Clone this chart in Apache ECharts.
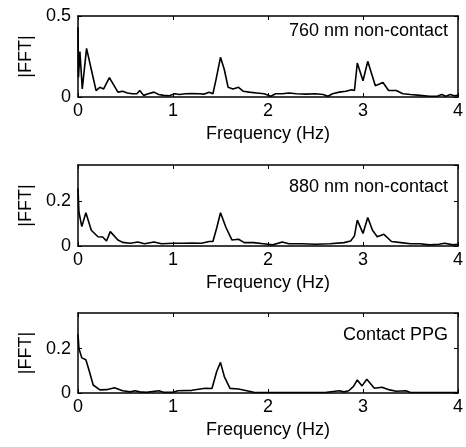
<!DOCTYPE html>
<html>
<head>
<meta charset="utf-8">
<title>FFT spectra</title>
<script src="https://cdn.jsdelivr.net/npm/echarts@6/dist/echarts.min.js"></script>
<style>
  html, body { margin: 0; padding: 0; background: #fff; }
  #fft-chart { width: 466px; height: 447px; }
</style>
</head>
<body>
<div id="fft-chart"></div>
<script>
// panel titles
const panelNames = ['760 nm non-contact', '880 nm non-contact', 'Contact PPG']

// 760 nm non-contact
const freq760 = [0, 0.005, 0.02, 0.045, 0.09, 0.14, 0.19, 0.23, 0.27, 0.33, 0.38, 0.42, 0.47, 0.52, 0.57,
  0.62, 0.65, 0.69, 0.74, 0.8, 0.85, 0.9, 0.96, 1.02, 1.07, 1.13, 1.2, 1.27, 1.33, 1.38,
  1.42, 1.45, 1.5, 1.54, 1.58, 1.63, 1.69, 1.74, 1.8, 1.88, 1.96, 2.03, 2.08, 2.15, 2.22,
  2.3, 2.4, 2.5, 2.58, 2.63, 2.68, 2.75, 2.82, 2.88, 2.91, 2.94, 3.0, 3.05, 3.13, 3.21,
  3.27, 3.35, 3.42, 3.5, 3.6, 3.7, 3.78, 3.83, 3.87, 3.92, 3.96, 4.0]
const fft760 = [0.43, 0.12, 0.28, 0.05, 0.30, 0.17, 0.04, 0.06, 0.05, 0.12, 0.07, 0.03, 0.035, 0.025, 0.02,
  0.02, 0.04, 0.01, 0.02, 0.03, 0.015, 0.01, 0.008, 0.02, 0.015, 0.02, 0.022, 0.02, 0.018, 0.03,
  0.02, 0.1, 0.245, 0.17, 0.06, 0.05, 0.06, 0.035, 0.03, 0.025, 0.02, 0.005, 0.02, 0.02, 0.025,
  0.02, 0.018, 0.02, 0.015, 0.005, 0.02, 0.03, 0.035, 0.045, 0.04, 0.21, 0.10, 0.22, 0.07, 0.09,
  0.04, 0.04, 0.02, 0.015, 0.01, 0.005, 0.005, 0.015, 0.005, 0.015, 0.008, 0.01]

// 880 nm non-contact
const freq880 = [0, 0.01, 0.04, 0.083, 0.14, 0.21, 0.26, 0.3, 0.34, 0.42, 0.47, 0.55, 0.63, 0.7, 0.8,
  0.88, 1.0, 1.1, 1.2, 1.3, 1.38, 1.42, 1.46, 1.5, 1.56, 1.62, 1.69, 1.75, 1.85, 1.95,
  2.05, 2.15, 2.22, 2.35, 2.5, 2.65, 2.8, 2.87, 2.91, 2.94, 3.0, 3.05, 3.1, 3.15, 3.22,
  3.3, 3.4, 3.5, 3.6, 3.7, 3.8, 3.86, 3.95, 4.0]
const fft880 = [0.256, 0.15, 0.086, 0.148, 0.07, 0.041, 0.04, 0.022, 0.064, 0.027, 0.016, 0.012, 0.018, 0.01, 0.018,
  0.01, 0.012, 0.012, 0.013, 0.012, 0.02, 0.02, 0.08, 0.148, 0.08, 0.027, 0.03, 0.015, 0.015, 0.01,
  0.005, 0.018, 0.01, 0.01, 0.008, 0.01, 0.015, 0.022, 0.045, 0.115, 0.056, 0.127, 0.07, 0.041, 0.052,
  0.02, 0.015, 0.01, 0.01, 0.005, 0.008, 0.012, 0.005, 0.008]

// contact PPG
const freqPpg = [0, 0.01, 0.04, 0.083, 0.12, 0.16, 0.23, 0.3, 0.385, 0.47, 0.55, 0.6, 0.65, 0.72, 0.85,
  0.9, 1.0, 1.05, 1.2, 1.34, 1.41, 1.46, 1.5, 1.54, 1.6, 1.69, 1.8, 1.85, 2.0, 2.3,
  2.6, 2.75, 2.8, 2.85, 2.9, 2.94, 2.99, 3.04, 3.12, 3.2, 3.28, 3.35, 3.45, 3.5, 3.7, 4.0]
const fftPpg = [0.264, 0.2, 0.158, 0.15, 0.097, 0.036, 0.014, 0.015, 0.024, 0.01, 0.005, 0.01, 0.005, 0.003, 0.01,
  0.003, 0.003, 0.01, 0.012, 0.021, 0.02, 0.097, 0.138, 0.074, 0.021, 0.018, 0.008, 0.003, 0.002, 0.002,
  0.002, 0.01, 0.005, 0.01, 0.03, 0.059, 0.032, 0.062, 0.021, 0.026, 0.014, 0.008, 0.01, 0.002, 0.002, 0.002]

// axis ranges
const xTicks = [0, 1, 2, 3, 4]
const yMax = [0.5, 0.36, 0.36]
const yStep = [0.5, 0.2, 0.2]

const panels = [
  { freq: freq760, fft: fft760, top: 16, height: 81, titleTop: 17 },
  { freq: freq880, fft: fft880, top: 165, height: 81, titleTop: 173 },
  { freq: freqPpg, fft: fftPpg, top: 313, height: 80, titleTop: 321 }
]

const font = 'Liberation Sans, Arial, sans-serif'
const chart = echarts.init(document.getElementById('fft-chart'))

const grid = []
const xAxis = []
const yAxis = []
const series = []
const title = []

panels.forEach((p, i) => {
  grid.push({ left: 78, width: 384, top: p.top, height: p.height })
  // onZero off so the top / right edges stay on the box
  const line = { show: true, onZero: false, lineStyle: { color: '#000', width: 1.5 } }
  const tick = { show: true, inside: true, length: 4, lineStyle: { color: '#000' } }
  // bottom axis with labels
  xAxis.push({
    gridIndex: i,
    type: 'value',
    min: xTicks[0],
    max: xTicks[xTicks.length - 1],
    interval: 1,
    position: 'bottom',
    axisLine: line,
    axisTick: tick,
    splitLine: { show: false },
    axisLabel: { color: '#000', fontSize: 18, fontFamily: font, margin: 5 },
    name: 'Frequency (Hz)',
    nameLocation: 'middle',
    nameGap: 28,
    nameTextStyle: { color: '#000', fontSize: 18, fontFamily: font }
  })
  // top box edge
  xAxis.push({
    gridIndex: i,
    type: 'value',
    min: xTicks[0],
    max: xTicks[xTicks.length - 1],
    interval: 1,
    position: 'top',
    axisLine: line,
    axisTick: tick,
    splitLine: { show: false },
    axisLabel: { show: false }
  })
  yAxis.push({
    gridIndex: i,
    type: 'value',
    min: 0,
    max: yMax[i],
    interval: yStep[i],
    position: 'left',
    axisLine: line,
    axisTick: tick,
    splitLine: { show: false },
    axisLabel: { color: '#000', fontSize: 18, fontFamily: font, margin: 7, showMaxLabel: i === 0 },
    name: '|FFT|',
    nameLocation: 'middle',
    nameRotate: 90,
    nameGap: 43,
    nameTextStyle: { color: '#000', fontSize: 18, fontFamily: font }
  })
  // right box edge
  yAxis.push({
    gridIndex: i,
    type: 'value',
    min: 0,
    max: yMax[i],
    interval: yStep[i],
    position: 'right',
    axisLine: line,
    axisTick: tick,
    splitLine: { show: false },
    axisLabel: { show: false }
  })
  series.push({
    type: 'line',
    xAxisIndex: i * 2,
    yAxisIndex: i * 2,
    data: p.freq.map((f, k) => [f, p.fft[k]]),
    showSymbol: false,
    lineStyle: { color: '#000', width: 1.6 },
    animation: false
  })
  title.push({
    text: panelNames[i],
    right: 13,
    top: p.titleTop,
    textStyle: { color: '#000', fontSize: 18, fontWeight: 'normal', fontFamily: font }
  })
})

chart.setOption({
  backgroundColor: '#fff',
  title: title,
  grid: grid,
  xAxis: xAxis,
  yAxis: yAxis,
  series: series
})
</script>
</body>
</html>
